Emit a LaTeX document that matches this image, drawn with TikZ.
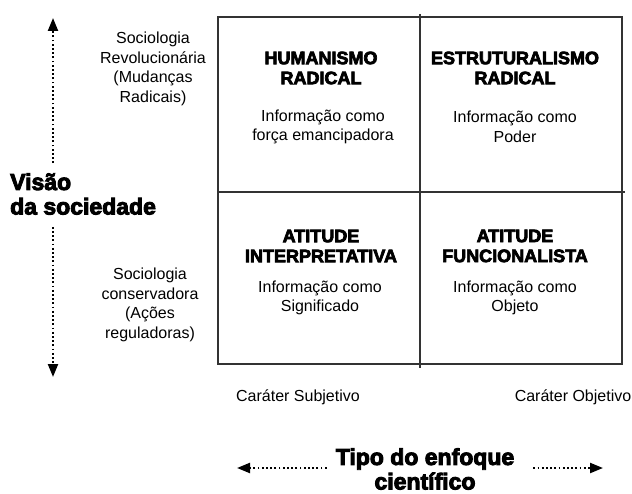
\documentclass[tikz,border=0pt]{standalone}
\usepackage{fontspec}
\setmainfont{Liberation Sans}
\newfontfamily\heavyfont{Liberation Sans Bold}[FakeBold=4]
\usetikzlibrary{arrows.meta}

\begin{document}
\begin{tikzpicture}[x=1pt,y=-1pt,
		txt/.style={inner sep=0pt,align=center,font=\fontsize{16}{19.5}\selectfont},
		titulo/.style={inner sep=0pt,align=center,font=\heavyfont\fontsize{18}{20}\selectfont},
		grande/.style={inner sep=0pt,font=\heavyfont\fontsize{23}{24.5}\selectfont},
		grade/.style={line width=1.5pt,black!80},
		pontilhado/.style={line width=2.2pt,black,dash pattern=on 1.8pt off 2.4pt,-{Triangle[length=13pt,width=10pt]}}]
	\useasboundingbox (0,0) rectangle (632,494);
	\def\xa{218} % esquerda
	\def\xb{420} % meio
	\def\xc{622} % direita
	\def\ya{17}
	\def\yb{192}
	\def\yc{364}
	\draw[grade] (\xa,\ya) rectangle (\xc,\yc);
	\draw[grade] (\xb,\ya-3) -- (\xb,\yc+4);
	\draw[grade] (\xa,\yb) -- (\xc+3,\yb);
	\node[titulo] (hum) at (321,68) {HUMANISMO\\RADICAL};
	\node[txt] (huminfo) at (323,127) {Informação como\\força emancipadora};
	\node[titulo] (estr) at (515,68) {ESTRUTURALISMO\\RADICAL};
	\node[txt] (estrinfo) at (515,127) {Informação como\\Poder};
	\node[titulo] (interp) at (321,246) {ATITUDE\\INTERPRETATIVA};
	\node[txt] (interpinfo) at (320,298) {Informação como\\Significado};
	\node[titulo] (func) at (515,246) {ATITUDE\\FUNCIONALISTA};
	\node[txt] (funcinfo) at (515,298) {Informação como\\Objeto};
	\node[txt] (revol) at (153,69) {Sociologia\\Revolucionária\\(Mudanças\\Radicais)};
	\node[txt] (conserv) at (150,305) {Sociologia\\conservadora\\(Ações\\reguladoras)};
	\node[txt] (subj) at (298,397) {Caráter Subjetivo};
	\node[txt] (obj) at (573,397) {Caráter Objetivo};
	\node[grande,align=left,anchor=west] (visao) at (10,194) {Visão\\da sociedade};
	\node[grande,align=center] (tipo) at (425,469) {Tipo do enfoque\\científico};
	% setas pontilhadas
	\coordinate (topo) at (53,18);
	\coordinate (base) at (53,377);
	\coordinate (esq) at (237,468);
	\coordinate (dir) at (603,468);
	\draw[pontilhado,shorten <=10pt] (topo |- visao.north) -- (topo);
	\draw[pontilhado,shorten <=12pt] (base |- visao.south) -- (base);
	\draw[pontilhado,shorten <=9pt] (tipo.west |- esq) -- (esq);
	\draw[pontilhado,shorten <=19pt] (tipo.east |- dir) -- (dir);
\end{tikzpicture}
\end{document}
